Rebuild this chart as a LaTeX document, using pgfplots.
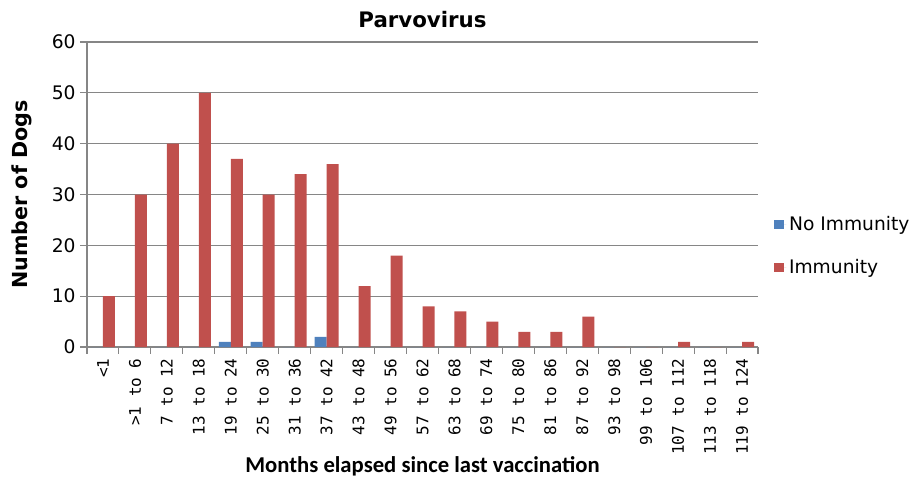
\documentclass[border=0pt]{standalone}
\usepackage{fontspec}
\setmainfont{DejaVu Sans}
\newfontfamily\monofont{DejaVu Sans Mono}
\newfontfamily\xlabfont{Carlito}
\usepackage{pgfplots}
\pgfplotsset{compat=1.18}
\definecolor{noimm}{RGB}{79,129,189}
\definecolor{imm}{RGB}{192,80,77}
\definecolor{gridgray}{RGB}{134,134,134}

\begin{document}
\begin{tikzpicture}
\path[use as bounding box] (0,0) rectangle (687.75pt,359.25pt);
\begin{axis}[
    at={(65.25pt,99pt)}, anchor=south west,
    scale only axis,
    width=503.25pt, height=228.75pt,
    ybar=0pt, bar width=9pt,
    xmin=-0.5, xmax=20.5,
    ymin=0, ymax=60,
    ytick={0,10,...,60},
    xtick={-0.5,0.5,...,20.5},
    x tick label as interval,
    xticklabels={{<1},{>1 to 6},{7 to 12},{13 to 18},{19 to 24},{25 to 30},{31 to 36},{37 to 42},{43 to 48},{49 to 56},{57 to 62},{63 to 68},{69 to 74},{75 to 80},{81 to 86},{87 to 92},{93 to 98},{99 to 106},{107 to 112},{113 to 118},{119 to 124}},
    xticklabel style={rotate=90, anchor=east, font=\monofont\fontsize{12}{12}\selectfont},
    yticklabel style={font=\fontsize{14}{14}\selectfont},
    /pgf/number format/assume math mode=true,
    axis x line*=bottom, axis y line*=left,
    axis line style={gridgray, line width=0.8pt},
    tick align=outside,
    major tick length=5pt,
    tick style={gridgray, line width=0.8pt},
    ymajorgrids,
    grid style={gridgray, line width=0.8pt},
    title={Parvovirus},
    title style={at={(axis description cs:0.5,1)}, anchor=center, yshift=11pt, font=\bfseries\fontsize{16}{16}\selectfont},
    ylabel={Number of Dogs},
    ylabel style={at={(axis description cs:-0.0969,0.5)}, anchor=center, font=\bfseries\fontsize{15.5}{16}\selectfont},
    xlabel={Months elapsed since last vaccination},
    xlabel style={at={(axis description cs:0.5,-0.39)}, anchor=center, font=\xlabfont\bfseries\fontsize{17}{17}\selectfont},
    legend style={at={(axis description cs:1.024,0.331)}, anchor=west, draw=none, fill=none,
        font=\fontsize{14}{14}\selectfont, row sep=16pt, inner sep=0pt},
    legend cell align=left,
    legend image code/.code={\fill[#1] (0pt,-3.5pt) rectangle (7pt,3.5pt); \path (0pt,0pt) -- (9pt,0pt);},
]
\addplot[fill=noimm, draw=none] coordinates {
    (0,0) (1,0) (2,0) (3,0) (4,1) (5,1) (6,0) (7,2) (8,0) (9,0) (10,0)
    (11,0) (12,0) (13,0) (14,0) (15,0) (16,0) (17,0) (18,0) (19,0) (20,0)
};
\addplot[fill=imm, draw=none] coordinates {
    (0,10) (1,30) (2,40) (3,50) (4,37) (5,30) (6,34) (7,36) (8,12) (9,18) (10,8)
    (11,7) (12,5) (13,3) (14,3) (15,6) (16,0) (17,0) (18,1) (19,0) (20,1)
};
\legend{No Immunity, Immunity}
\end{axis}
\end{tikzpicture}
\end{document}
